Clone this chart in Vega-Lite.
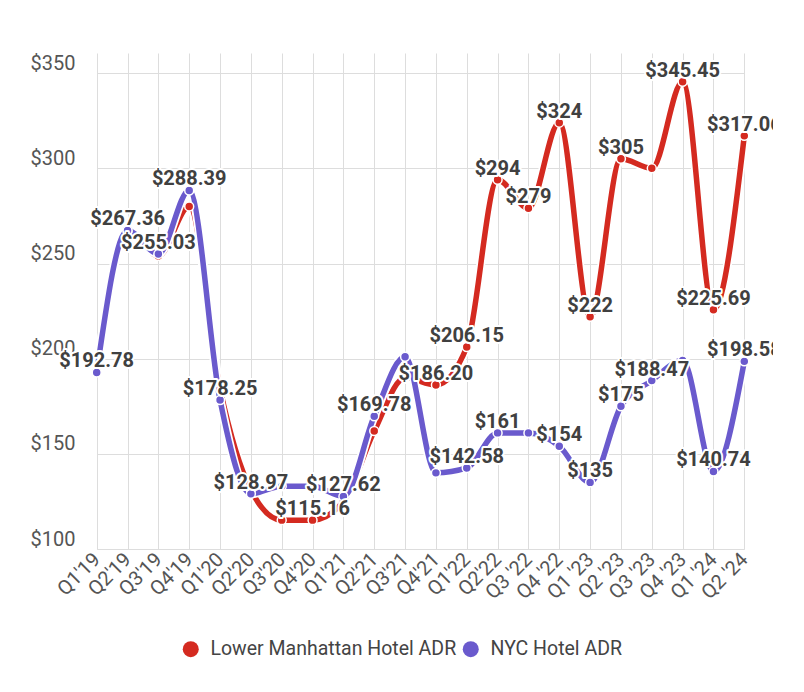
{
  "$schema": "https://vega.github.io/schema/vega-lite/v6.json",
  "width": 743,
  "height": 496,
  "padding": {"left": 30, "top": 53, "right": 0, "bottom": 0},
  "background": "white",
  "config": {
    "view": {"stroke": null},
    "font": "Roboto",
    "axis": {"gridColor": "#dddddd", "gridWidth": 1, "domain": false, "ticks": false, "tickSize": 0, "title": null, "labelFont": "Roboto", "labelColor": "#555555"},
    "legend": {"layout": {"bottom": {"anchor": "middle"}}}
  },
  "data": {
    "values": [
      {"q": "Q1'19", "series": "Lower Manhattan Hotel ADR", "value": 193, "label": null},
      {"q": "Q2'19", "series": "Lower Manhattan Hotel ADR", "value": 267, "label": null},
      {"q": "Q3'19", "series": "Lower Manhattan Hotel ADR", "value": 254, "label": null},
      {"q": "Q4'19", "series": "Lower Manhattan Hotel ADR", "value": 280, "label": null},
      {"q": "Q1'20", "series": "Lower Manhattan Hotel ADR", "value": 184, "label": null},
      {"q": "Q2'20", "series": "Lower Manhattan Hotel ADR", "value": 131, "label": null},
      {"q": "Q3'20", "series": "Lower Manhattan Hotel ADR", "value": 115.16, "label": null},
      {"q": "Q4'20", "series": "Lower Manhattan Hotel ADR", "value": 115.16, "label": "$115.16"},
      {"q": "Q1'21", "series": "Lower Manhattan Hotel ADR", "value": 125, "label": null},
      {"q": "Q2'21", "series": "Lower Manhattan Hotel ADR", "value": 162, "label": null},
      {"q": "Q3'21", "series": "Lower Manhattan Hotel ADR", "value": 190, "label": null},
      {"q": "Q4'21", "series": "Lower Manhattan Hotel ADR", "value": 186.2, "label": "$186.20"},
      {"q": "Q1'22", "series": "Lower Manhattan Hotel ADR", "value": 206.15, "label": "$206.15"},
      {"q": "Q2'22", "series": "Lower Manhattan Hotel ADR", "value": 294, "label": "$294"},
      {"q": "Q3 '22", "series": "Lower Manhattan Hotel ADR", "value": 279, "label": "$279"},
      {"q": "Q4 '22", "series": "Lower Manhattan Hotel ADR", "value": 324, "label": "$324"},
      {"q": "Q1 '23", "series": "Lower Manhattan Hotel ADR", "value": 222, "label": "$222"},
      {"q": "Q2 '23", "series": "Lower Manhattan Hotel ADR", "value": 305, "label": "$305"},
      {"q": "Q3 '23", "series": "Lower Manhattan Hotel ADR", "value": 300, "label": null},
      {"q": "Q4 '23", "series": "Lower Manhattan Hotel ADR", "value": 345.45, "label": "$345.45"},
      {"q": "Q1 '24", "series": "Lower Manhattan Hotel ADR", "value": 225.69, "label": "$225.69"},
      {"q": "Q2 '24", "series": "Lower Manhattan Hotel ADR", "value": 317.06, "label": "$317.06"},
      {"q": "Q1'19", "series": "NYC Hotel ADR", "value": 192.78, "label": "$192.78"},
      {"q": "Q2'19", "series": "NYC Hotel ADR", "value": 267.36, "label": "$267.36"},
      {"q": "Q3'19", "series": "NYC Hotel ADR", "value": 255.03, "label": "$255.03"},
      {"q": "Q4'19", "series": "NYC Hotel ADR", "value": 288.39, "label": "$288.39"},
      {"q": "Q1'20", "series": "NYC Hotel ADR", "value": 178.25, "label": "$178.25"},
      {"q": "Q2'20", "series": "NYC Hotel ADR", "value": 128.97, "label": "$128.97"},
      {"q": "Q3'20", "series": "NYC Hotel ADR", "value": 133, "label": null},
      {"q": "Q4'20", "series": "NYC Hotel ADR", "value": 133, "label": null},
      {"q": "Q1'21", "series": "NYC Hotel ADR", "value": 127.62, "label": "$127.62"},
      {"q": "Q2'21", "series": "NYC Hotel ADR", "value": 169.78, "label": "$169.78"},
      {"q": "Q3'21", "series": "NYC Hotel ADR", "value": 201, "label": null},
      {"q": "Q4'21", "series": "NYC Hotel ADR", "value": 140, "label": null},
      {"q": "Q1'22", "series": "NYC Hotel ADR", "value": 142.58, "label": "$142.58"},
      {"q": "Q2'22", "series": "NYC Hotel ADR", "value": 161, "label": "$161"},
      {"q": "Q3 '22", "series": "NYC Hotel ADR", "value": 161, "label": null},
      {"q": "Q4 '22", "series": "NYC Hotel ADR", "value": 154, "label": "$154"},
      {"q": "Q1 '23", "series": "NYC Hotel ADR", "value": 135, "label": "$135"},
      {"q": "Q2 '23", "series": "NYC Hotel ADR", "value": 175, "label": "$175"},
      {"q": "Q3 '23", "series": "NYC Hotel ADR", "value": 188.47, "label": "$188.47"},
      {"q": "Q4 '23", "series": "NYC Hotel ADR", "value": 199, "label": null},
      {"q": "Q1 '24", "series": "NYC Hotel ADR", "value": 140.74, "label": "$140.74"},
      {"q": "Q2 '24", "series": "NYC Hotel ADR", "value": 198.58, "label": "$198.58"}
    ]
  },
  "encoding": {
    "x": {
      "field": "q", "type": "ordinal", "sort": null,
      "scale": {"type": "point", "range": [66.7, 714.3], "padding": 0},
      "axis": {"grid": true, "labelAngle": -45, "labelAlign": "right", "labelBaseline": "middle", "labelPadding": 7, "labelFontSize": 20}
    },
    "y": {
      "field": "value", "type": "quantitative",
      "scale": {"domain": [100, 360.6], "nice": false, "zero": false},
      "axis": {"values": [100, 150, 200, 250, 300, 350], "format": "$.0f", "labelAlign": "left", "labelBaseline": "alphabetic", "labelPadding": 0, "labelOffset": -4, "labelFontSize": 20}
    }
  },
  "layer": [
    {
      "transform": [{"filter": "datum.series === 'Lower Manhattan Hotel ADR'"}],
      "mark": {"type": "line", "interpolate": "monotone", "color": "white", "strokeWidth": 9, "strokeCap": "round", "strokeJoin": "round"}
    },
    {
      "transform": [{"filter": "datum.series === 'Lower Manhattan Hotel ADR'"}],
      "mark": {"type": "line", "interpolate": "monotone", "color": "#d42a20", "strokeWidth": 5.5, "strokeCap": "round", "strokeJoin": "round"}
    },
    {
      "transform": [{"filter": "datum.series === 'NYC Hotel ADR'"}],
      "mark": {"type": "line", "interpolate": "monotone", "color": "white", "strokeWidth": 9, "strokeCap": "round", "strokeJoin": "round"}
    },
    {
      "transform": [{"filter": "datum.series === 'NYC Hotel ADR'"}],
      "mark": {"type": "line", "interpolate": "monotone", "color": "#6a5acd", "strokeWidth": 5.5, "strokeCap": "round", "strokeJoin": "round"}
    },
    {
      "mark": {"type": "circle", "size": 80, "opacity": 1, "stroke": "white", "strokeWidth": 1.5},
      "encoding": {
        "color": {
          "field": "series", "type": "nominal",
          "scale": {"domain": ["Lower Manhattan Hotel ADR", "NYC Hotel ADR"], "range": ["#d42a20", "#6a5acd"]},
          "legend": {"title": null, "orient": "bottom", "direction": "horizontal", "symbolType": "circle", "symbolSize": 256, "symbolStrokeWidth": 0, "symbolOpacity": 1, "labelFontSize": 19.5, "labelFont": "Roboto", "labelColor": "#444444", "labelOffset": 10, "columnPadding": 4, "offset": 36, "labelLimit": 400}
        }
      }
    },
    {
      "transform": [{"filter": "datum.label != null"}],
      "mark": {"type": "text", "clip": true, "font": "Roboto", "fontWeight": "bold", "fontSize": 20, "baseline": "alphabetic", "align": "center", "dy": -5, "stroke": "white", "strokeWidth": 4, "strokeJoin": "round", "fill": "white"},
      "encoding": {"text": {"field": "label"}}
    },
    {
      "transform": [{"filter": "datum.label != null"}],
      "mark": {"type": "text", "clip": true, "font": "Roboto", "fontWeight": "bold", "fontSize": 20, "baseline": "alphabetic", "align": "center", "dy": -5, "fill": "#404040"},
      "encoding": {"text": {"field": "label"}}
    }
  ]
}
